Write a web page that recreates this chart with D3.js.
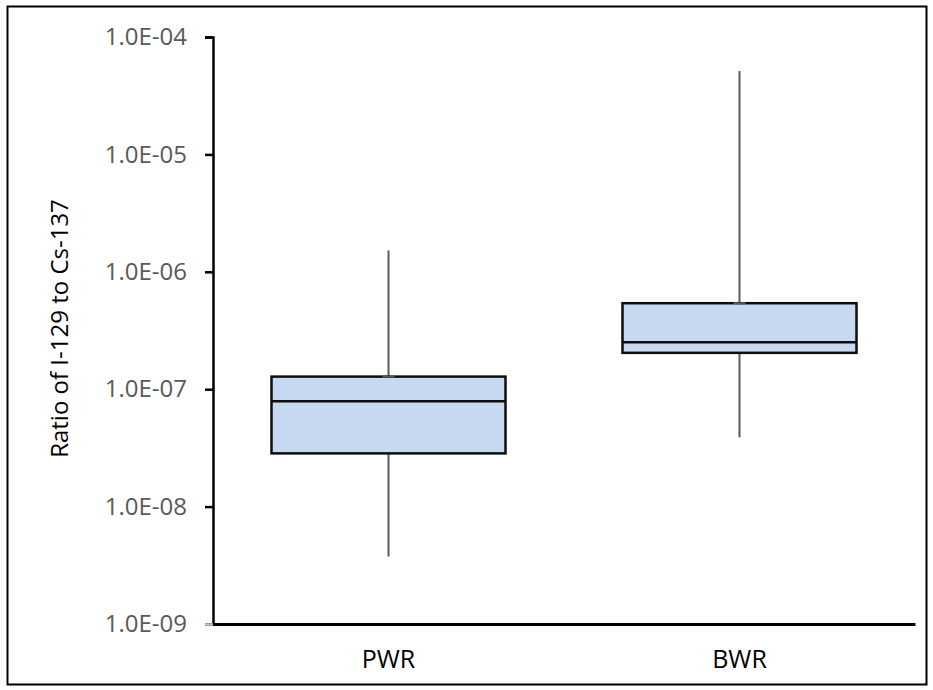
<!DOCTYPE html>
<html>
<head>
<meta charset="utf-8">
<script src="https://cdn.jsdelivr.net/npm/d3@7"></script>
<style>
  body { margin: 0; background: #fff; }
  svg text { font-family: "Open Sans", "Liberation Sans", sans-serif; }
</style>
</head>
<body>
<div id="chart"></div>
<script>
// box plot data (log scale)
var categories = ["PWR", "BWR"];
var mins    = [3.76e-9, 3.89e-8];
var q1s     = [2.84e-8, 2.04e-7];
var medians = [7.88e-8, 2.51e-7];
var q3s     = [1.28e-7, 5.40e-7];
var maxs    = [1.52e-6, 5.13e-5];
var yTicks  = [1e-9, 1e-8, 1e-7, 1e-6, 1e-5, 1e-4];

var W = 933, H = 690,
    margin = {top: 37, right: 18, bottom: 66, left: 213};
var width = W - margin.left - margin.right,
    height = H - margin.top - margin.bottom;

var svg = d3.select("#chart").append("svg")
    .attr("width", W)
    .attr("height", H);

// outer frame
svg.append("rect")
    .attr("x", 7.5).attr("y", 6.5)
    .attr("width", W - 14).attr("height", H - 12)
    .attr("fill", "none")
    .attr("stroke", "#000")
    .attr("stroke-width", 2);

var g = svg.append("g").attr("transform", "translate(" + margin.left + "," + margin.top + ")");

var x = d3.scaleBand().domain(categories).range([0, width]);
var y = d3.scaleLog().domain([1e-9, 1e-4]).range([height, 0]);

var data = categories.map(function(c, i) {
  return {cat: c, min: mins[i], q1: q1s[i], med: medians[i], q3: q3s[i], max: maxs[i]};
});

var boxW = x.bandwidth() * 2 / 3;

var boxes = g.selectAll("g.box").data(data).enter().append("g")
    .attr("class", "box")
    .attr("transform", function(d) { return "translate(" + (x(d.cat) + x.bandwidth() / 2) + ",0)"; });

// whiskers
boxes.append("line")
    .attr("x1", 0).attr("x2", 0)
    .attr("y1", function(d) { return y(d.max); })
    .attr("y2", function(d) { return y(d.q3); })
    .attr("stroke", "#595959").attr("stroke-width", 2);
boxes.append("line")
    .attr("x1", 0).attr("x2", 0)
    .attr("y1", function(d) { return y(d.q1); })
    .attr("y2", function(d) { return y(d.min); })
    .attr("stroke", "#595959").attr("stroke-width", 2);

// box
boxes.append("rect")
    .attr("x", -boxW / 2)
    .attr("width", boxW)
    .attr("y", function(d) { return y(d.q3); })
    .attr("height", function(d) { return y(d.q1) - y(d.q3); })
    .attr("fill", "#c6d9f0")
    .attr("stroke", "#0d0d0d")
    .attr("stroke-width", 2.5);

// small whisker caps at the box edge
boxes.append("line")
    .attr("x1", -6).attr("x2", 6)
    .attr("y1", function(d) { return y(d.q3); })
    .attr("y2", function(d) { return y(d.q3); })
    .attr("stroke", "#595959").attr("stroke-width", 2);

// median
boxes.append("line")
    .attr("x1", -boxW / 2).attr("x2", boxW / 2)
    .attr("y1", function(d) { return y(d.med); })
    .attr("y2", function(d) { return y(d.med); })
    .attr("stroke", "#0d0d0d").attr("stroke-width", 2.5);

// y axis
var yAxis = g.append("g")
    .call(d3.axisLeft(y).tickValues(yTicks).tickSize(8).tickPadding(18)
      .tickFormat(function(d) { return d.toExponential(1).toUpperCase().replace(/E-(\d)$/, "E-0$1"); }));
yAxis.select(".domain").attr("stroke", "#000").attr("stroke-width", 2.5);
yAxis.selectAll(".tick line").attr("stroke", function(d) { return d === 1e-9 ? "#bfbfbf" : "#000"; }).attr("stroke-width", 2.5);
yAxis.selectAll(".tick text").attr("fill", "#595959").attr("font-size", 24);

// x axis
var xAxis = g.append("g")
    .attr("transform", "translate(0," + height + ")")
    .call(d3.axisBottom(x).tickSize(0).tickPadding(26));
xAxis.select(".domain").attr("stroke", "#000").attr("stroke-width", 3);
xAxis.selectAll(".tick text").attr("fill", "#000").attr("font-size", 25);

// y axis title
svg.append("text")
    .attr("transform", "translate(60," + (margin.top + height / 2 - 2) + ") rotate(-90)")
    .attr("text-anchor", "middle")
    .attr("dy", "0.35em")
    .attr("font-size", 24)
    .attr("fill", "#000")
    .text("Ratio of I-129 to Cs-137");
</script>
</body>
</html>
